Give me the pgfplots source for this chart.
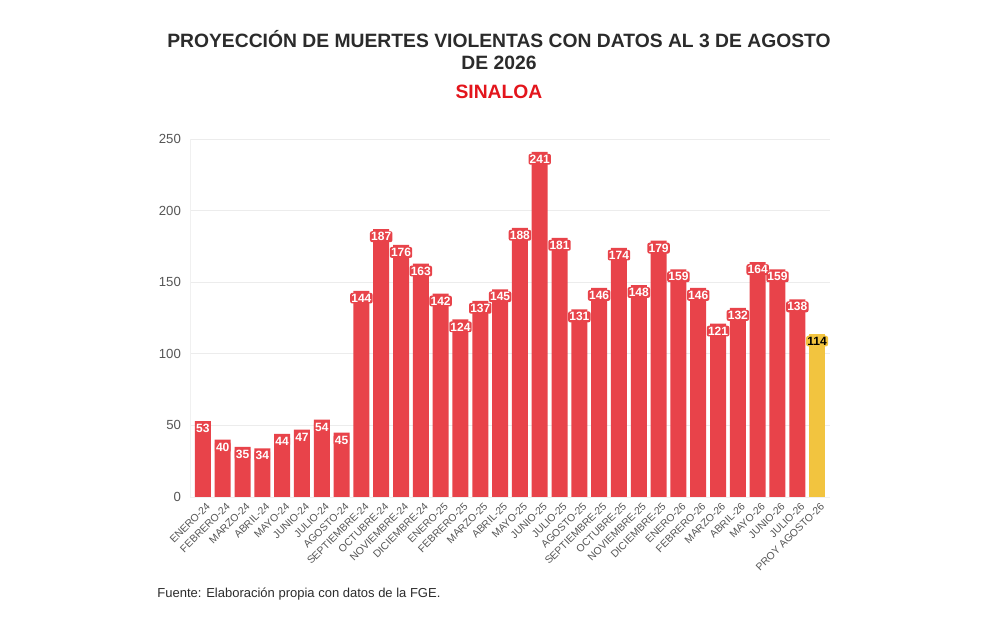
\documentclass[border=0pt]{standalone}
\usepackage{fontspec}
\setmainfont{Liberation Sans}
\usepackage{pgfplots}
\pgfplotsset{compat=1.18}
\definecolor{barred}{HTML}{E8434A}
\definecolor{baryel}{HTML}{F2C43F}
\definecolor{tickgray}{HTML}{555555}
\definecolor{titlegray}{HTML}{2B2B2B}
\definecolor{titlered}{HTML}{E3151C}
\begin{document}
\begin{tikzpicture}
\useasboundingbox (0,0) rectangle (499pt,315pt);
\begin{axis}[
  at={(95pt,66.5pt)}, anchor=south west,
  scale only axis, width=320pt, height=179pt,
  xmin=-0.65, xmax=31.65, ymin=0, ymax=250,
  ybar, bar width=8pt, bar shift=0pt,
  axis lines=left, axis line style={draw=gray!12,-},
  ymajorgrids, grid style={draw=gray!15, line width=0.4pt},
  ytick={0,50,100,150,200,250},
  major tick length=0,
  y tick label style={font=\fontsize{6.6}{7}\selectfont, text=tickgray, xshift=-1pt},
  /pgf/number format/assume math mode=true,
  xtick={0,...,31},
  xticklabels={ENERO-24,FEBRERO-24,MARZO-24,ABRIL-24,MAYO-24,JUNIO-24,JULIO-24,AGOSTO-24,SEPTIEMBRE-24,OCTUBRE-24,NOVIEMBRE-24,DICIEMBRE-24,ENERO-25,FEBRERO-25,MARZO-25,ABRIL-25,MAYO-25,JUNIO-25,JULIO-25,AGOSTO-25,SEPTIEMBRE-25,OCTUBRE-25,NOVIEMBRE-25,DICIEMBRE-25,ENERO-26,FEBRERO-26,MARZO-26,ABRIL-26,MAYO-26,JUNIO-26,JULIO-26,PROY AGOSTO-26},
  x tick label style={rotate=45, anchor=north east, font=\fontsize{5.2}{5.5}\selectfont, text=tickgray, inner sep=0.5pt, yshift=-2pt},
  nodes near coords,
  every node near coord/.append style={anchor=north, yshift=-0.8pt, font=\bfseries\fontsize{6}{6.5}\selectfont, inner sep=0.6pt, rounded corners=1pt},
]
\addplot[fill=barred, draw=none, every node near coord/.append style={text=white, fill=barred}] coordinates {
(0,53) (1,40) (2,35) (3,34) (4,44) (5,47) (6,54) (7,45)
(8,144) (9,187) (10,176) (11,163) (12,142) (13,124) (14,137) (15,145)
(16,188) (17,241) (18,181) (19,131) (20,146) (21,174) (22,148) (23,179)
(24,159) (25,146) (26,121) (27,132) (28,164) (29,159) (30,138)};
\addplot[fill=baryel, draw=none, every node near coord/.append style={text=black, fill=baryel}] coordinates {(31,114)};
\end{axis}
\node[font=\bfseries\fontsize{9.65}{11}\selectfont, text=titlegray, align=center] at (249.5pt,290pt) {PROYECCIÓN DE MUERTES VIOLENTAS CON DATOS AL 3 DE AGOSTO\\DE 2026};
\node[font=\bfseries\fontsize{9.65}{11}\selectfont, text=titlered] at (249.5pt,269pt) {SINALOA};
\node[anchor=west, font=\fontsize{6.5}{7}\selectfont, text=titlegray, inner sep=0pt] at (78.5pt,18pt) {Fuente: Elaboración propia con datos de la FGE.};
\end{tikzpicture}
\end{document}
